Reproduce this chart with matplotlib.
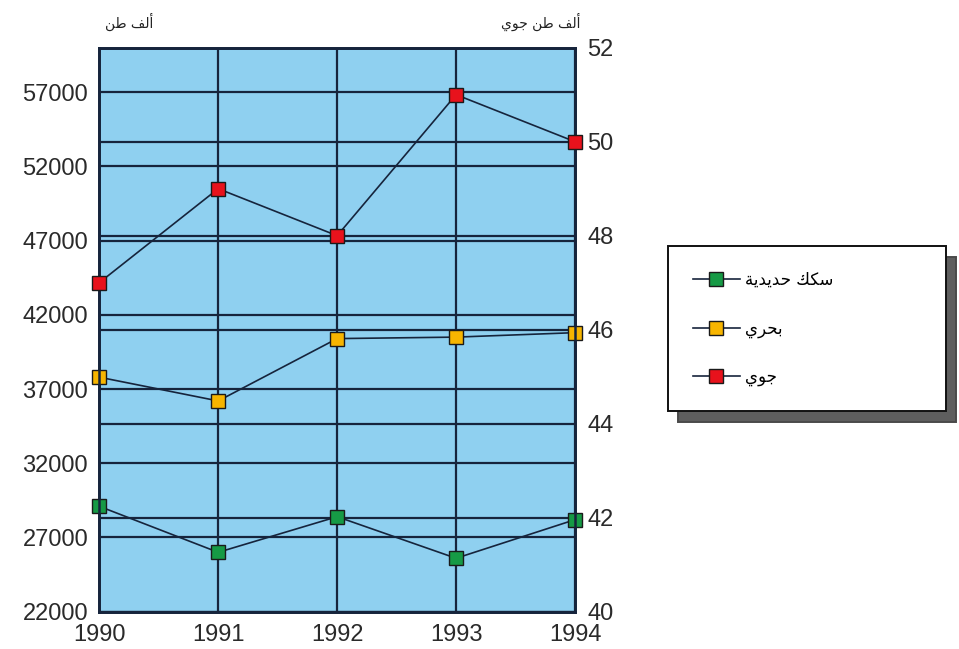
import matplotlib
matplotlib.use("Agg")
import matplotlib.pyplot as plt
from matplotlib.patches import Shadow

# ---------------- data ----------------
years = [1990, 1991, 1992, 1993, 1994]
rail = [29100, 26000, 28400, 25600, 28200]      # left axis (thousand tons)
sea = [37800, 36200, 40400, 40500, 40800]       # left axis (thousand tons)
air = [47, 49, 48, 51, 50]                      # right axis (thousand tons air)

left_ticks = [22000, 27000, 32000, 37000, 42000, 47000, 52000, 57000]
right_ticks = [40, 42, 44, 46, 48, 50, 52]

label_left = "ألف طن"
label_right = "ألف طن جوي"
series_names = ["سكك حديدية", "بحري", "جوي"]

# ------------- Arabic shaping (presentation forms, visual order) -------------
FORMS = {
    '\u0623': ('\uFE83', '\uFE84', None, None),
    '\u0628': ('\uFE8F', '\uFE90', '\uFE91', '\uFE92'),
    '\u0629': ('\uFE93', '\uFE94', None, None),
    '\u062C': ('\uFE9D', '\uFE9E', '\uFE9F', '\uFEA0'),
    '\u062D': ('\uFEA1', '\uFEA2', '\uFEA3', '\uFEA4'),
    '\u062F': ('\uFEA9', '\uFEAA', None, None),
    '\u0631': ('\uFEAD', '\uFEAE', None, None),
    '\u0633': ('\uFEB1', '\uFEB2', '\uFEB3', '\uFEB4'),
    '\u0637': ('\uFEC1', '\uFEC2', '\uFEC3', '\uFEC4'),
    '\u0641': ('\uFED1', '\uFED2', '\uFED3', '\uFED4'),
    '\u0643': ('\uFED9', '\uFEDA', '\uFEDB', '\uFEDC'),
    '\u0644': ('\uFEDD', '\uFEDE', '\uFEDF', '\uFEE0'),
    '\u0646': ('\uFEE5', '\uFEE6', '\uFEE7', '\uFEE8'),
    '\u0648': ('\uFEED', '\uFEEE', None, None),
    '\u064A': ('\uFEF1', '\uFEF2', '\uFEF3', '\uFEF4'),
}


def shape(s):
    out = []
    for i, c in enumerate(s):
        f = FORMS.get(c)
        if f is None:
            out.append(c)
            continue
        prev = s[i - 1] if i > 0 else ''
        nxt = s[i + 1] if i + 1 < len(s) else ''
        jp = prev in FORMS and FORMS[prev][2] is not None
        jn = nxt in FORMS and f[2] is not None
        if jp and jn:
            out.append(f[3])
        elif jp:
            out.append(f[1])
        elif jn:
            out.append(f[2])
        else:
            out.append(f[0])
    return ''.join(reversed(out))


# ---------------- style ----------------
BG = '#8fd0f0'
NAVY = '#16243c'
TICK_COLOR = '#2a2a2a'
GREEN = '#169a45'
YELLOW = '#f7b500'
RED = '#e8121c'
AR_FONT = ['DejaVu Sans']
NUM_FONT = ['Liberation Sans', 'DejaVu Sans']

fig = plt.figure(figsize=(9.59, 6.49), dpi=100)
rect = [0.1035, 0.0575, 0.4961, 0.869]

ax = fig.add_axes(rect)
axR = ax.twinx()
axA = ax.twinx()
axA.sharey(axR)

axR.set_zorder(0)
ax.set_zorder(1)
axA.set_zorder(2)
axR.patch.set_visible(True)
axR.patch.set_facecolor(BG)
ax.patch.set_visible(False)
axA.patch.set_visible(False)

# limits & ticks
ax.set_xlim(years[0], years[-1])
ax.set_xticks(years)
ax.set_ylim(22000, 60000)
ax.set_yticks(left_ticks)
axR.set_ylim(40, 52)
axR.set_yticks(right_ticks)

grid_kw = dict(color=NAVY, linewidth=1.6)
ax.grid(True, axis='both', **grid_kw)
axR.grid(True, axis='y', **grid_kw)
axR.grid(False, axis='x')
ax.set_axisbelow(True)
axR.set_axisbelow(True)

for a in (ax, axR, axA):
    for sp in a.spines.values():
        sp.set_color(NAVY)
        sp.set_linewidth(1.8)

ax.tick_params(axis='both', length=0, labelsize=17, labelcolor=TICK_COLOR)
ax.tick_params(axis='y', pad=8)
ax.tick_params(axis='x', pad=9)
axR.tick_params(axis='y', length=0, labelsize=17, labelcolor=TICK_COLOR, pad=9)
for lab in ax.get_xticklabels() + ax.get_yticklabels() + axR.get_yticklabels():
    lab.set_fontfamily(NUM_FONT)

axA.tick_params(axis='both', length=0, labelleft=False, labelright=False,
                labelbottom=False, left=False, right=False, bottom=False)

line_kw = dict(color=NAVY, linewidth=1.2, marker='s', markersize=10.5,
               markeredgecolor='#1a1a1a', markeredgewidth=1.0, clip_on=False)
l_rail, = ax.plot(years, rail, markerfacecolor=GREEN, zorder=3, **line_kw)
l_sea, = ax.plot(years, sea, markerfacecolor=YELLOW, zorder=3, **line_kw)
l_air, = axA.plot(years, air, markerfacecolor=RED, zorder=3, **line_kw)

# top axis unit labels
fig.text(105 / 959, 1 - 22 / 649, shape(label_left), fontsize=10,
         family=AR_FONT, ha='left', va='center', color='#222222')
fig.text(580 / 959, 1 - 22 / 649, shape(label_right), fontsize=10,
         family=AR_FONT, ha='right', va='center', color='#222222')

# legend
leg = fig.legend(handles=[l_rail, l_sea, l_air],
                 labels=[shape(s) for s in series_names],
                 loc='upper left',
                 bbox_to_anchor=(668 / 959, 1 - 246 / 649 - 0.3, 278 / 959, 0.3),
                 mode='expand', borderaxespad=0, fancybox=False,
                 frameon=True, edgecolor='#111111', facecolor='white',
                 framealpha=1, prop={'family': AR_FONT, 'size': 12},
                 borderpad=1.5, labelspacing=1.82, handlelength=2.8,
                 handletextpad=0.3)
leg.get_frame().set_linewidth(1.4)
leg.set_zorder(5)

fig.canvas.draw()
sh = Shadow(leg.legendPatch, 7.0, -8.0, facecolor='#5e5e5e',
            edgecolor='#4a4a4a', alpha=1)
sh.set_zorder(4.9)
fig.add_artist(sh)

fig.savefig('out.png', dpi=100)
